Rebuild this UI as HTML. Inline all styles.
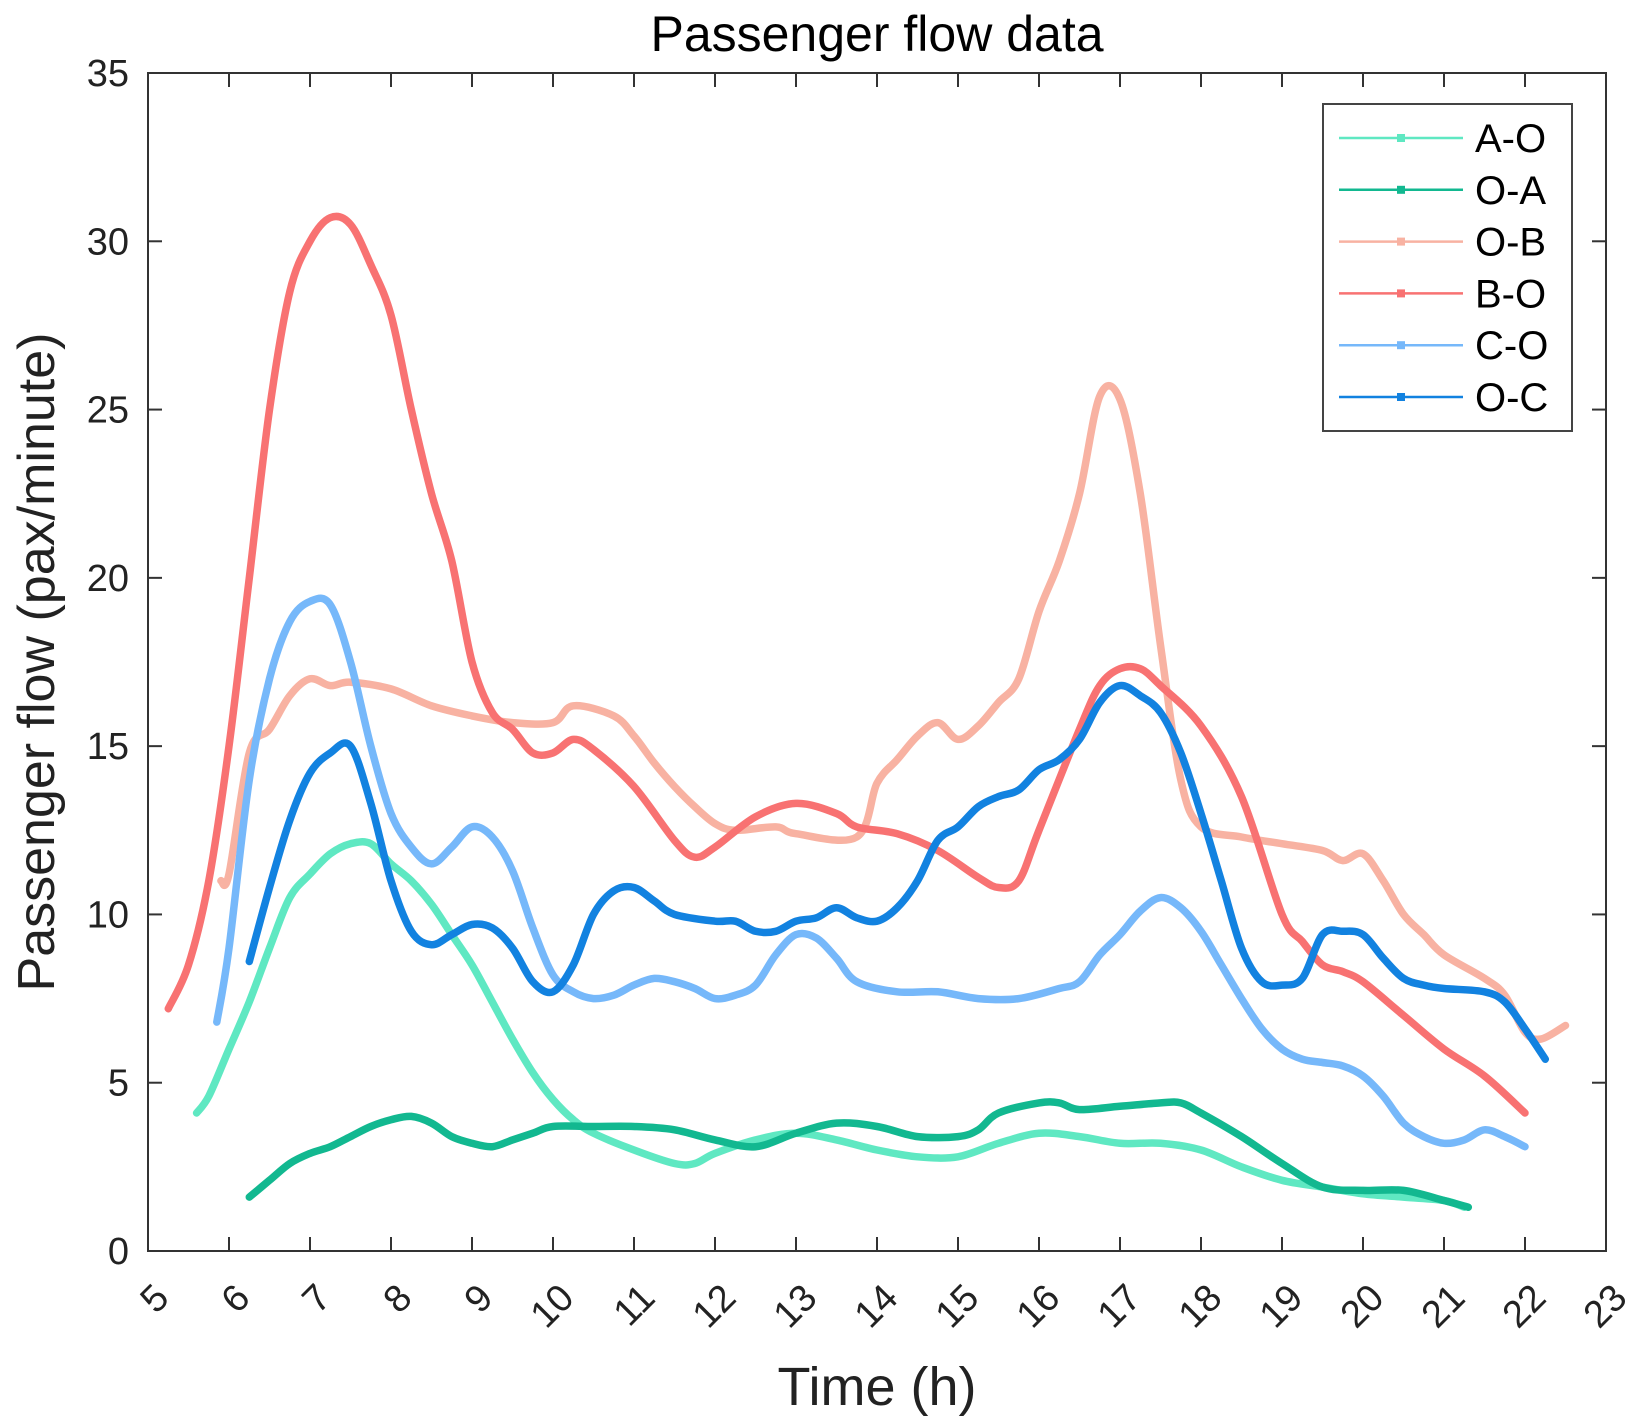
<!DOCTYPE html>
<html><head><meta charset="utf-8"><style>
html,body{margin:0;padding:0;background:#fff;}
svg{display:block;font-family:"Liberation Sans",Arial,sans-serif;}
</style></head><body>
<svg id="chart" width="1638" height="1426" viewBox="0 0 1638 1426">
<rect width="1638" height="1426" fill="#fff"/>
<g id="plot"></g>
</svg>
<script>
const xTicks=[5,6,7,8,9,10,11,12,13,14,15,16,17,18,19,20,21,22,23];
const yTicks=[0,5,10,15,20,25,30,35];
const seriesNames=["A-O","O-A","O-B","B-O","C-O","O-C"];
const seriesColors=["#5fe8c2","#12b890","#f8b2a2","#f87272","#76b8fa","#1282e0"];
const aoT=[5.6,5.75,6,6.25,6.5,6.75,7,7.25,7.5,7.75,8,8.25,8.5,8.75,9,9.25,9.5,9.75,10,10.25,10.5,11,11.5,11.75,12,12.5,13,13.5,14,14.5,15,15.5,16,16.5,17,17.5,18,18.5,19,19.5,20,20.5,21,21.25];
const aoV=[4.1,4.6,6,7.4,9,10.5,11.2,11.8,12.1,12.1,11.5,11,10.3,9.4,8.5,7.4,6.3,5.3,4.5,3.9,3.5,3,2.6,2.6,2.9,3.3,3.5,3.3,3,2.8,2.8,3.2,3.5,3.4,3.2,3.2,3,2.5,2.1,1.9,1.7,1.6,1.5,1.3];
const oaT=[6.25,6.5,6.75,7,7.25,7.5,7.75,8,8.25,8.5,8.75,9,9.25,9.5,9.75,10,10.5,11,11.5,12,12.5,13,13.5,14,14.5,15,15.25,15.5,16,16.25,16.5,17,17.5,17.75,18,18.5,19,19.5,20,20.5,21,21.3];
const oaV=[1.6,2.1,2.6,2.9,3.1,3.4,3.7,3.9,4,3.8,3.4,3.2,3.1,3.3,3.5,3.7,3.7,3.7,3.6,3.3,3.1,3.5,3.8,3.7,3.4,3.4,3.6,4.1,4.4,4.4,4.2,4.3,4.4,4.4,4.1,3.4,2.6,1.9,1.8,1.8,1.5,1.3];
const obT=[5.9,6,6.25,6.5,6.75,7,7.25,7.5,8,8.5,9,9.5,10,10.25,10.75,11,11.25,11.5,11.75,12,12.25,12.75,13,13.75,14,14.25,14.5,14.75,15,15.25,15.5,15.75,16,16.25,16.5,16.75,17,17.25,17.5,17.75,18,18.5,19,19.5,19.75,20,20.25,20.5,20.75,21,21.5,21.75,22,22.2,22.5];
const obV=[11,11.2,14.8,15.5,16.5,17,16.8,16.9,16.7,16.2,15.9,15.7,15.7,16.2,15.9,15.3,14.5,13.8,13.2,12.7,12.5,12.6,12.4,12.3,13.9,14.6,15.3,15.7,15.2,15.6,16.3,17,19,20.5,22.5,25.4,25.3,22.5,18,14,12.6,12.3,12.1,11.9,11.6,11.8,11,10,9.4,8.8,8.1,7.6,6.5,6.3,6.7];
const boT=[5.25,5.5,5.75,6,6.25,6.5,6.75,7,7.25,7.5,7.75,8,8.25,8.5,8.75,9,9.25,9.5,9.75,10,10.25,10.5,11,11.5,11.75,12,12.5,13,13.5,13.75,14.25,14.75,15.25,15.5,15.75,16,16.5,16.75,17,17.25,17.5,18,18.5,19,19.25,19.5,19.75,20,20.5,21,21.5,22];
const boV=[7.2,8.5,11,15,20,25,28.5,30,30.7,30.5,29.3,27.8,25,22.5,20.5,17.5,16,15.5,14.8,14.8,15.2,14.9,13.8,12.2,11.7,12,12.9,13.3,13,12.6,12.4,11.9,11.1,10.8,11,12.5,15.5,16.8,17.3,17.3,16.8,15.6,13.5,10,9.2,8.5,8.3,8,7,6,5.2,4.1];
const coT=[5.85,6,6.25,6.5,6.75,7,7.25,7.5,7.75,8,8.25,8.5,8.75,9,9.25,9.5,9.75,10,10.25,10.5,10.75,11,11.25,11.5,11.75,12,12.25,12.5,12.75,13,13.25,13.5,13.75,14.25,14.75,15.25,15.75,16.25,16.5,16.75,17,17.25,17.5,17.75,18,18.25,18.5,18.75,19,19.25,19.5,19.75,20,20.25,20.5,20.75,21,21.25,21.5,21.75,22];
const coV=[6.8,9,14,17,18.7,19.3,19.2,17.5,15,13,12,11.5,12,12.6,12.3,11.3,9.6,8.2,7.7,7.5,7.6,7.9,8.1,8,7.8,7.5,7.6,7.9,8.8,9.4,9.3,8.7,8,7.7,7.7,7.5,7.5,7.8,8,8.8,9.4,10.1,10.5,10.2,9.5,8.5,7.5,6.6,6,5.7,5.6,5.5,5.2,4.6,3.8,3.4,3.2,3.3,3.6,3.4,3.1];
const ocT=[6.25,6.5,6.75,7,7.25,7.5,7.75,8,8.25,8.5,8.75,9,9.25,9.5,9.75,10,10.25,10.5,10.75,11,11.25,11.5,12,12.25,12.5,12.75,13,13.25,13.5,13.75,14,14.25,14.5,14.75,15,15.25,15.5,15.75,16,16.25,16.5,16.75,17,17.25,17.5,17.75,18,18.25,18.5,18.75,19,19.25,19.5,19.75,20,20.25,20.5,20.75,21,21.5,21.75,22,22.25];
const ocV=[8.6,10.8,12.8,14.2,14.8,15,13.3,11,9.5,9.1,9.4,9.7,9.6,9,8,7.7,8.5,10,10.7,10.8,10.4,10,9.8,9.8,9.5,9.5,9.8,9.9,10.2,9.9,9.8,10.2,11,12.2,12.6,13.2,13.5,13.7,14.3,14.6,15.2,16.3,16.8,16.5,16,14.8,13,11,9,8,7.9,8.1,9.4,9.5,9.4,8.7,8.1,7.9,7.8,7.7,7.4,6.6,5.7];

const L=148,R=1606,T=73,B=1251;
const xS=v=>L+(v-5)/(23-5)*(R-L);
const yS=v=>B-(v-0)/(35-0)*(B-T);
const NS="http://www.w3.org/2000/svg";
const g=document.getElementById('plot');
function mk(tag,attrs,parent){const e=document.createElementNS(NS,tag);for(const k in attrs)e.setAttribute(k,attrs[k]);(parent||g).appendChild(e);return e;}
function smoothPath(p){
  let d='M'+p[0][0].toFixed(1)+','+p[0][1].toFixed(1);
  for(let i=0;i<p.length-1;i++){
    const p0=p[Math.max(i-1,0)],p1=p[i],p2=p[i+1],p3=p[Math.min(i+2,p.length-1)];
    const c1x=p1[0]+(p2[0]-p0[0])/6,c1y=p1[1]+(p2[1]-p0[1])/6;
    const c2x=p2[0]-(p3[0]-p1[0])/6,c2y=p2[1]-(p3[1]-p1[1])/6;
    d+=' C'+c1x.toFixed(1)+','+c1y.toFixed(1)+' '+c2x.toFixed(1)+','+c2y.toFixed(1)+' '+p2[0].toFixed(1)+','+p2[1].toFixed(1);
  }
  return d;
}

const data=[[aoT,aoV],[oaT,oaV],[obT,obV],[boT,boV],[coT,coV],[ocT,ocV]];
const order=[2,4,0,1,3,5];
order.forEach(i=>{
  const [ts,vs]=data[i];
  const pts=ts.map((t,j)=>[xS(t),yS(vs[j])]);
  const p=mk('path',{d:smoothPath(pts),fill:'none',stroke:seriesColors[i],'stroke-width':7.5,'stroke-linejoin':'round','stroke-linecap':'round'});
  
  
});

const frame=mk('rect',{x:L,y:T,width:R-L,height:B-T,fill:'none',stroke:'#333','stroke-width':2});



xTicks.forEach(v=>{
  const x=xS(v);
  mk('line',{x1:x,y1:B,x2:x,y2:B-14,stroke:'#333','stroke-width':2});
  mk('line',{x1:x,y1:T,x2:x,y2:T+14,stroke:'#333','stroke-width':2});
  const t=mk('text',{x:x+23,y:B+49,'font-size':38,'text-anchor':'end',fill:'#222',transform:'rotate(-45 '+(x+23)+' '+(B+49)+')'});
  t.textContent=v;
  
  
});
yTicks.forEach(v=>{
  const y=yS(v);
  mk('line',{x1:L,y1:y,x2:L+14,y2:y,stroke:'#333','stroke-width':2});
  mk('line',{x1:R,y1:y,x2:R-14,y2:y,stroke:'#333','stroke-width':2});
  const t=mk('text',{x:L-19,y:y+13,'font-size':38,'text-anchor':'end',fill:'#222'});
  t.textContent=v;
  
  
});

const title=mk('text',{x:877,y:51,'font-size':50,'text-anchor':'middle',fill:'#000'});
title.textContent='Passenger flow data';


const xl=mk('text',{x:877,y:1405,'font-size':54,'text-anchor':'middle',fill:'#222'});
xl.textContent='Time (h)';


const yl=mk('text',{x:54,y:662,'font-size':52,'text-anchor':'middle',fill:'#222',transform:'rotate(-90 54 662)'});
yl.textContent='Passenger flow (pax/minute)';



const lg=mk('g',{});


mk('rect',{x:1323,y:104,width:249,height:327,fill:'#fff',stroke:'#444','stroke-width':2},lg);
seriesNames.forEach((n,i)=>{
  const y=138+i*51.8;
  const e=mk('g',{},lg);
  
  
  mk('line',{x1:1339,y1:y,x2:1463,y2:y,stroke:seriesColors[i],'stroke-width':2.5},e);
  mk('rect',{x:1397,y:y-4,width:8,height:8,fill:seriesColors[i]},e);
  const t=mk('text',{x:1475,y:y+14,'font-size':40,fill:'#000'},e);
  t.textContent=n;
});
</script>
</body></html>
